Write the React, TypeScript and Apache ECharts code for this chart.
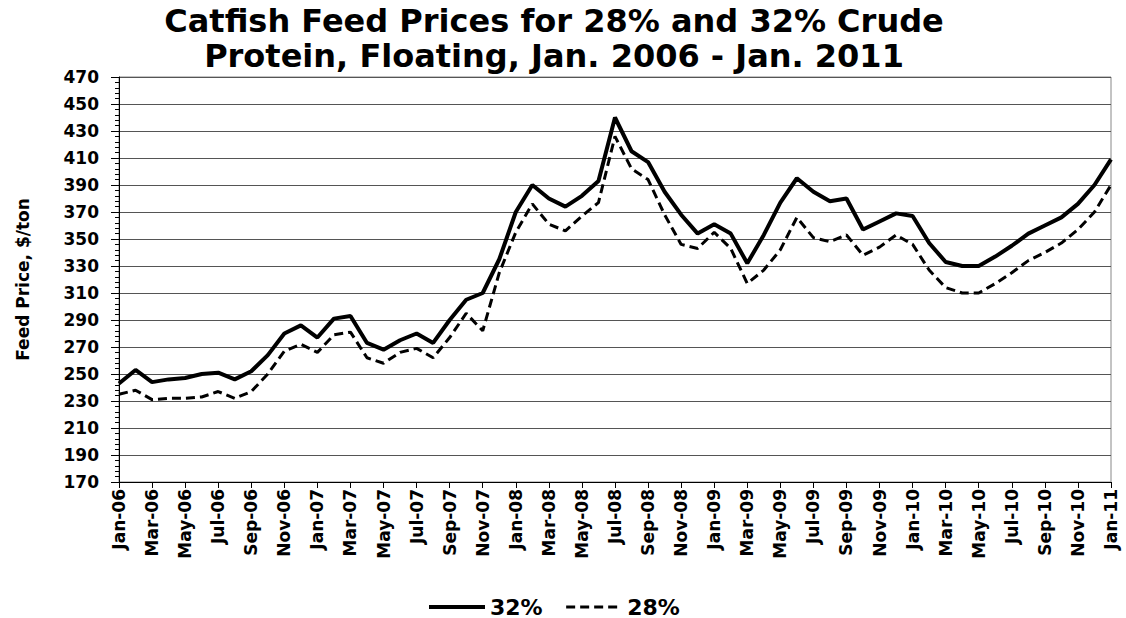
import React, { useEffect, useRef } from "react";
import * as echarts from "echarts";

const months = [
  "Jan-06","Feb-06","Mar-06","Apr-06","May-06","Jun-06","Jul-06","Aug-06","Sep-06","Oct-06","Nov-06","Dec-06",
  "Jan-07","Feb-07","Mar-07","Apr-07","May-07","Jun-07","Jul-07","Aug-07","Sep-07","Oct-07","Nov-07","Dec-07",
  "Jan-08","Feb-08","Mar-08","Apr-08","May-08","Jun-08","Jul-08","Aug-08","Sep-08","Oct-08","Nov-08","Dec-08",
  "Jan-09","Feb-09","Mar-09","Apr-09","May-09","Jun-09","Jul-09","Aug-09","Sep-09","Oct-09","Nov-09","Dec-09",
  "Jan-10","Feb-10","Mar-10","Apr-10","May-10","Jun-10","Jul-10","Aug-10","Sep-10","Oct-10","Nov-10","Dec-10",
  "Jan-11",
];

const protein32 = [
  243, 253, 244, 246, 247, 250, 251, 246, 252, 264, 280, 286,
  277, 291, 293, 273, 268, 275, 280, 273, 290, 305, 310, 335,
  370, 390, 380, 374, 382, 393, 440, 415, 407, 385, 368, 354,
  361, 354, 332, 353, 377, 395, 385, 378, 380, 357, 363, 369,
  367, 347, 333, 330, 330, 337, 345, 354, 360, 366, 376, 390,
  409,
];

const protein28 = [
  235, 238, 231, 232, 232, 233, 237, 232, 237, 250, 267, 272,
  266, 279, 281, 262, 258, 266, 269, 262, 277, 295, 282, 325,
  355, 376, 361, 356, 367, 377, 426, 402, 394, 368, 346, 343,
  355, 343, 317, 327, 342, 366, 351, 348, 353, 338, 344, 353,
  346, 327, 314, 310, 310, 317, 325, 334, 340, 347, 357, 370,
  390,
];

const FONT = "DejaVu Sans";

export default function App() {
  const ref = useRef<HTMLDivElement>(null);
  useEffect(() => {
    if (!ref.current) return;
    const chart = echarts.init(ref.current, null, { renderer: "svg" });
    chart.setOption({
      animation: false,
      backgroundColor: "#ffffff",
      title: {
        text: "Catfish Feed Prices for 28% and 32% Crude\nProtein, Floating, Jan. 2006 - Jan. 2011",
        left: 554,
        textAlign: "center",
        top: 3,
        padding: 0,
        textStyle: {
          fontFamily: FONT,
          fontWeight: "bold",
          fontSize: 32,
          lineHeight: 35,
          color: "#000",
        },
      },
      legend: {
        top: 596,
        left: 427,
        padding: 0,
        itemWidth: 56,
        itemHeight: 14,
        itemGap: 22,
        itemStyle: { color: "rgba(0,0,0,0)", borderColor: "rgba(0,0,0,0)", borderWidth: 0 },
        textStyle: { fontFamily: FONT, fontWeight: "bold", fontSize: 22, color: "#000" },
        data: [
          { name: "32%", lineStyle: { width: 4, color: "#000" } },
          { name: "28%", lineStyle: { width: 3, color: "#000", type: [9, 5] } },
        ],
      },
      grid: {
        left: 119,
        right: 15,
        top: 77,
        bottom: 136,
        show: true,
        borderColor: "#888",
        borderWidth: 1,
      },
      xAxis: {
        type: "category",
        data: months,
        boundaryGap: false,
        axisLine: { lineStyle: { color: "#000", width: 1 } },
        axisTick: { interval: 1, length: 6, lineStyle: { color: "#000" } },
        axisLabel: {
          interval: 1,
          rotate: 90,
          fontFamily: FONT,
          fontWeight: "bold",
          fontSize: 17,
          color: "#000",
          margin: 7,
        },
        splitLine: { show: false },
      },
      yAxis: {
        type: "value",
        min: 170,
        max: 470,
        interval: 20,
        name: "Feed Price, $/ton",
        nameLocation: "middle",
        nameGap: 88,
        nameTextStyle: { fontFamily: FONT, fontWeight: "bold", fontSize: 17, color: "#000" },
        axisLine: { show: true, lineStyle: { color: "#000", width: 1 } },
        axisTick: { show: true, length: 8, lineStyle: { color: "#000" } },
        minorTick: { show: true, splitNumber: 5, length: 4, lineStyle: { color: "#000" } },
        axisLabel: {
          fontFamily: FONT,
          fontWeight: "bold",
          fontSize: 17,
          color: "#000",
          margin: 20,
        },
        splitLine: { show: true, lineStyle: { color: "#555", width: 1 } },
      },
      series: [
        {
          name: "32%",
          type: "line",
          data: protein32,
          symbol: "none",
          lineStyle: { color: "#000", width: 4 },
          itemStyle: { color: "#000" },
          z: 3,
        },
        {
          name: "28%",
          type: "line",
          data: protein28,
          symbol: "none",
          lineStyle: { color: "#000", width: 3, type: [9, 5] },
          itemStyle: { color: "#000" },
          z: 2,
        },
      ],
    });
    return () => chart.dispose();
  }, []);
  return (
    <div
      ref={ref}
      style={{ position: "fixed", left: 0, top: 0, width: 1126, height: 618 }}
    />
  );
}
